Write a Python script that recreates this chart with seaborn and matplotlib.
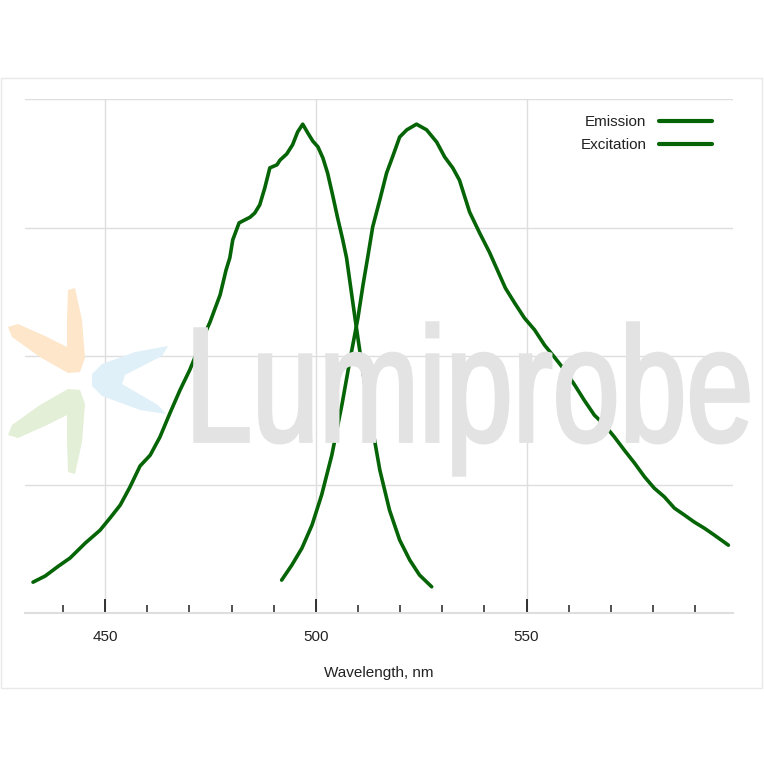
import numpy as np
import pandas as pd
import matplotlib
matplotlib.use("Agg")
import matplotlib.pyplot as plt
import seaborn as sns
from matplotlib.textpath import TextPath
from matplotlib.font_manager import FontProperties
from matplotlib.patches import PathPatch, Rectangle, Polygon
from matplotlib.transforms import Affine2D
from matplotlib.lines import Line2D

# ---------------- data ----------------
exc_wl = [432.9, 435.8, 438.9, 441.7, 445.3, 448.8, 451.2, 453.6, 455.9, 458.3,
          460.7, 463.0, 465.4, 467.8, 470.1, 472.5, 474.9, 477.3, 478.7, 479.6,
          480.3, 481.8, 484.4, 485.5, 486.7, 487.9, 489.1, 490.8, 491.5, 493.1,
          494.5, 495.7, 496.9, 498.1, 499.3, 500.5, 501.7, 502.8, 504.0, 505.2,
          506.4, 507.3, 509.2, 511.1, 513.3, 515.2, 517.5, 519.9, 522.3, 524.6,
          527.5]
exc_val = [0.060, 0.072, 0.091, 0.107, 0.136, 0.161, 0.185, 0.210, 0.245, 0.286,
           0.307, 0.342, 0.389, 0.434, 0.473, 0.521, 0.566, 0.619, 0.667, 0.691,
           0.726, 0.759, 0.770, 0.778, 0.794, 0.827, 0.866, 0.872, 0.881, 0.893,
           0.911, 0.936, 0.951, 0.934, 0.918, 0.907, 0.885, 0.856, 0.813, 0.768,
           0.726, 0.691, 0.580, 0.473, 0.366, 0.278, 0.200, 0.142, 0.103, 0.074,
           0.051]

em_wl = [491.9, 494.3, 496.7, 499.1, 501.4, 503.8, 506.2, 508.1, 510.0, 511.2,
         512.3, 513.5, 515.2, 516.8, 518.2, 519.9, 521.6, 523.9, 526.3, 528.7,
         530.6, 532.5, 534.1, 536.5, 538.9, 541.2, 543.1, 545.0, 547.2, 549.5,
         551.9, 554.3, 556.6, 559.0, 561.4, 563.7, 566.1, 568.5, 570.9, 573.2,
         575.6, 578.0, 580.3, 582.7, 585.1, 587.4, 589.8, 592.2, 594.5, 597.9]
em_val = [0.064, 0.093, 0.126, 0.171, 0.230, 0.307, 0.405, 0.492, 0.574, 0.638,
          0.691, 0.751, 0.804, 0.856, 0.887, 0.926, 0.940, 0.951, 0.940, 0.916,
          0.887, 0.866, 0.842, 0.780, 0.739, 0.702, 0.667, 0.632, 0.603, 0.574,
          0.551, 0.521, 0.498, 0.473, 0.444, 0.414, 0.385, 0.366, 0.342, 0.317,
          0.292, 0.265, 0.243, 0.226, 0.204, 0.191, 0.177, 0.165, 0.152, 0.132]

series_labels = ["Emission", "Excitation"]
x_major = [450, 500, 550]
x_minor = [440, 460, 470, 480, 490, 510, 520, 530, 540, 560, 570, 580, 590]
x_label = "Wavelength, nm"
watermark = "Lumiprobe"

# ---------------- styling ----------------
sns.set_theme(style="white")
plt.rcParams["font.family"] = ["Liberation Sans", "DejaVu Sans"]
GREEN = "#056405"
GRID = "#dedede"
W = H = 764

fig = plt.figure(figsize=(W / 100, H / 100), dpi=100)
fig.patch.set_facecolor("white")

def fx(px):
    return px / W

def fy(py):
    return 1 - py / H

# outer frame
fig.patches.append(Rectangle((fx(1), fy(688)), fx(762) - fx(1), fy(78) - fy(688),
                             transform=fig.transFigure, fill=False,
                             edgecolor="#e8e8e8", linewidth=1.0, zorder=0))

ax = fig.add_axes([fx(25), fy(613), fx(733) - fx(25), fy(99) - fy(613)])
ax.set_facecolor("none")

# logo (decorative)
orange = [(68, 290), (75, 288), (82, 320), (85, 358), (80, 372), (68, 373),
          (40, 357), (12, 337), (8, 327), (18, 324), (45, 336), (67, 347), (67, 320)]
green = [(x, 762 - y) for (x, y) in orange]
blue = [(92, 374), (102, 364), (135, 352), (168, 346), (162, 356), (125, 375),
        (122, 384), (158, 405), (166, 414), (140, 410), (102, 396), (92, 386)]
for pts, col in [(orange, "#fde6c9"), (green, "#e3efd6"), (blue, "#e0f0f8")]:
    fig.patches.append(Polygon([(fx(x), fy(y)) for x, y in pts], closed=True,
                               transform=fig.transFigure, facecolor=col,
                               edgecolor="none", zorder=0.2))

# watermark text
tp = TextPath((0, 0), watermark, size=100,
              prop=FontProperties(family="Liberation Sans", weight="normal"))
ext = tp.get_extents()
x0, x1, ytop, ybot = 195, 748, 323, 475
sx = (x1 - x0) / ext.width
sy = (ybot - ytop) / ext.height
tr = (Affine2D().translate(-ext.x0, -ext.y0).scale(sx, sy)
      .translate(x0, H - ybot).scale(1 / W, 1 / H) + fig.transFigure)
fig.patches.append(PathPatch(tp, transform=tr, facecolor="#e3e3e3",
                             edgecolor="#e3e3e3", linewidth=2.5, zorder=0.3))

# curves
df = pd.concat([
    pd.DataFrame({"wl": em_wl, "val": em_val, "series": series_labels[0]}),
    pd.DataFrame({"wl": exc_wl, "val": exc_val, "series": series_labels[1]}),
])
sns.lineplot(data=df, x="wl", y="val", hue="series", sort=False,
             palette=[GREEN, GREEN], linewidth=2.6, ax=ax, legend=False,
             estimator=None, zorder=3)

ax.set_xlim(431, 599)
ax.set_ylim(0, 1)
ax.set_yticks([0, 0.25, 0.5, 0.75, 1.0])
ax.set_yticklabels([])
ax.tick_params(axis="y", length=0, left=False)
ax.set_xticks(x_major)
ax.set_xticklabels([str(v) for v in x_major])
ax.set_xticks(x_minor, minor=True)
ax.tick_params(axis="x", which="both", bottom=True, top=False)
ax.tick_params(axis="x", which="major", direction="in", length=10, width=1.3,
               color="#222222", labelsize=11, pad=12, labelcolor="#222222")
ax.tick_params(axis="x", which="minor", direction="in", length=5.5, width=1.1,
               color="#222222")
ax.grid(True, which="major", color=GRID, linewidth=1.0)
ax.set_axisbelow(True)
for s in ["top", "left", "right"]:
    ax.spines[s].set_visible(False)
ax.spines["bottom"].set_color(GRID)
ax.spines["bottom"].set_linewidth(1.5)
ax.set_xlabel(x_label, fontsize=11, color="#222222", labelpad=16)
ax.set_ylabel("")

handles = [Line2D([], [], color=GREEN, linewidth=3) for _ in series_labels]
ax.legend(handles, series_labels, loc="upper right", bbox_to_anchor=(0.99, 0.995),
          frameon=False, markerfirst=False, fontsize=11, handlelength=3.5,
          handletextpad=0.8, labelspacing=0.6, labelcolor="#222222")

fig.savefig("out.png", dpi=100, facecolor="white")
